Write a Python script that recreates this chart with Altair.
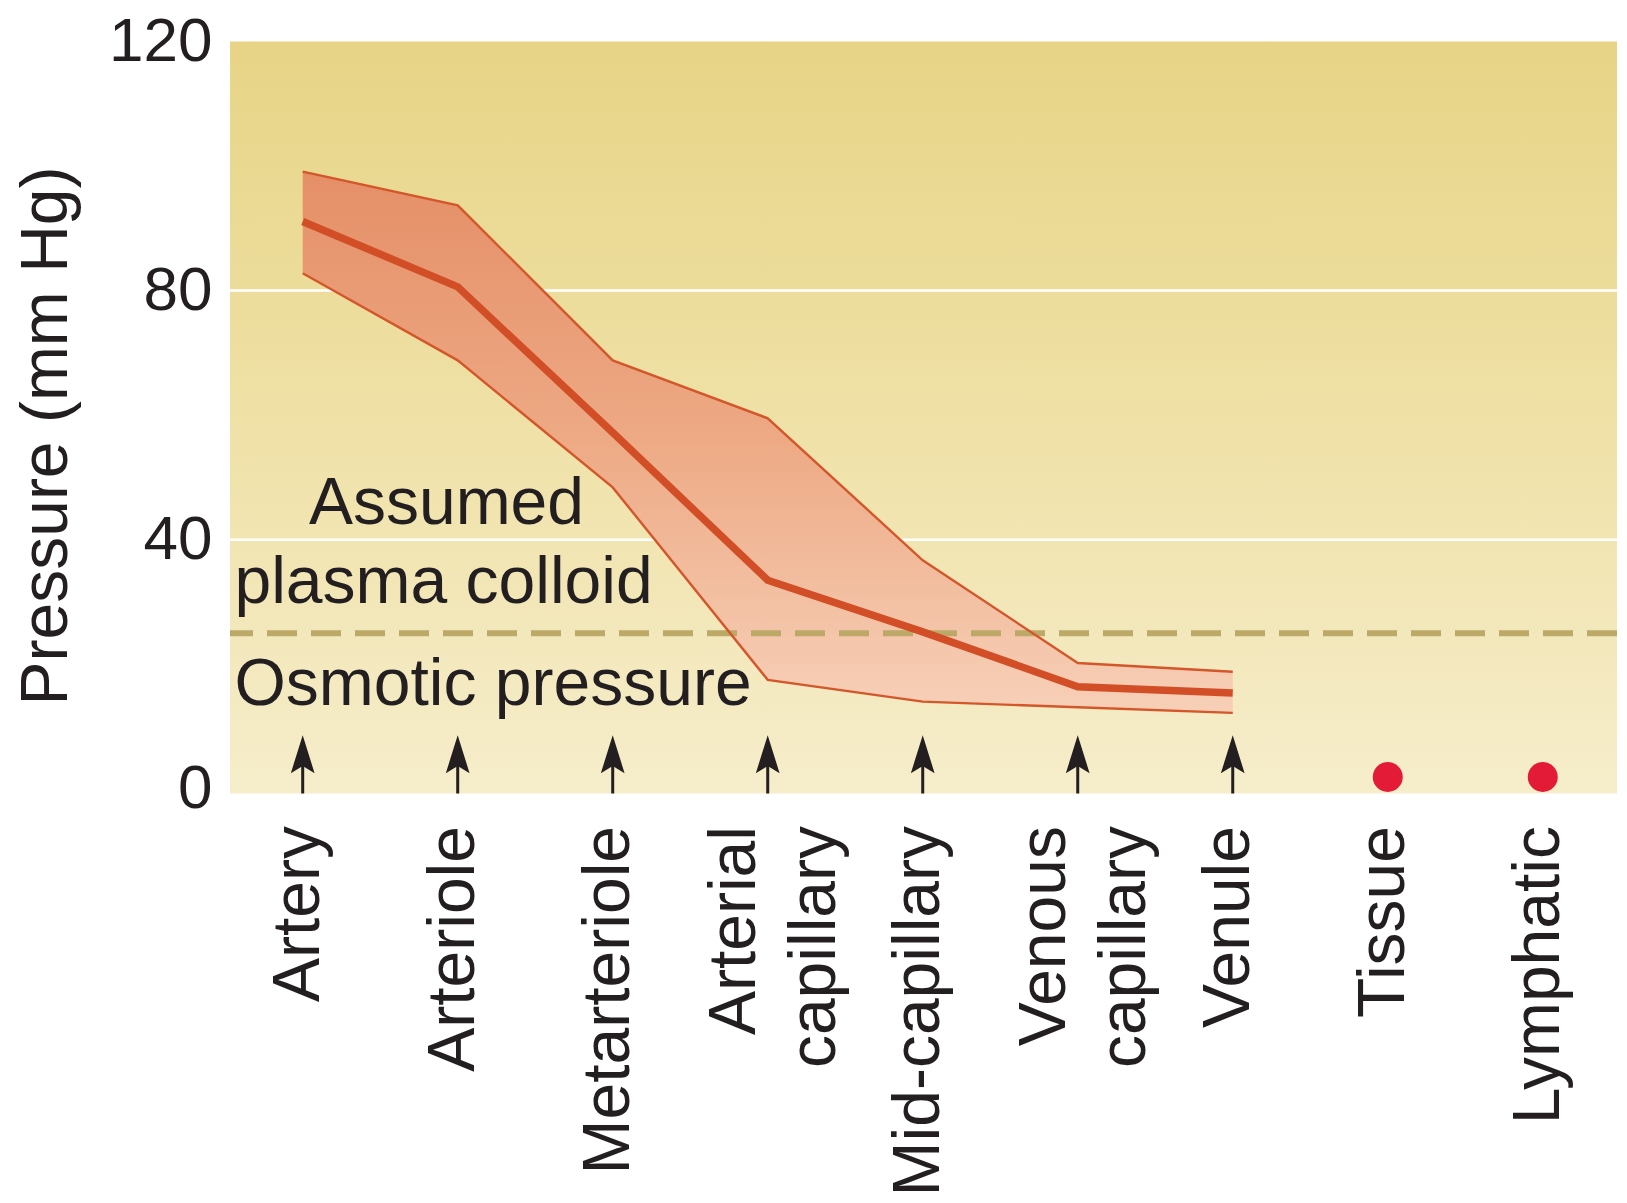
import json
import altair as alt
import pandas as pd

# ---------------- data ----------------
categories = ["Artery", "Arteriole", "Metarteriole", "Arterial\ncapillary",
              "Mid-capillary", "Venous\ncapillary", "Venule", "Tissue", "Lymphatic"]
vessel_index = [0, 1, 2, 3, 4, 5, 6]
mean_pressure = [91.1, 80.6, 57.2, 33.5, 25.2, 16.4, 15.4]
upper_pressure = [99.1, 93.7, 68.8, 59.5, 36.7, 20.2, 18.8]
lower_pressure = [82.8, 68.8, 48.4, 17.5, 14.0, 13.1, 12.2]
interstitial_index = [7, 8]
interstitial_pressure = [1.9, 1.9]
osmotic_pressure = [25]
grid_values = [40, 80]
y_ticks = [0, 40, 80, 120]
x_ticks = list(range(len(categories)))
x_domain = [-0.469, 8.479]
y_domain = [-0.75, 120]
arrow_head_value = 4.8
note_texts = ["Assumed", "plasma colloid", "Osmotic pressure"]
note_x = [0.04, -0.44, -0.44]
note_y = [42.5, 29.8, 13.4]

FONT = "Liberation Sans"
INK = "#231F20"

# ---------------- tables ----------------
vessels = pd.DataFrame({"x": vessel_index, "mean": mean_pressure,
                        "upper": upper_pressure, "lower": lower_pressure})
bg = pd.DataFrame({"x": [x_domain[0]], "x2": [x_domain[1]],
                   "y": [y_domain[0]], "y2": [y_domain[1]]})
grid = pd.DataFrame({"y": grid_values})
dash = pd.DataFrame({"y": osmotic_pressure})
arrows = pd.DataFrame({"x": vessel_index,
                       "y": [y_domain[0]] * len(vessel_index),
                       "y2": [arrow_head_value] * len(vessel_index)})
dots = pd.DataFrame({"x": interstitial_index, "y": interstitial_pressure})
notes = pd.DataFrame({"x": note_x, "y": note_y, "t": note_texts})

label_arrays = json.dumps([c.split("\n") for c in categories])
multi_idx = [i for i, c in enumerate(categories) if "\n" in c]

x_scale = alt.Scale(domain=x_domain, nice=False, zero=False)
y_scale = alt.Scale(domain=y_domain, nice=False, zero=False)

x_axis = alt.Axis(values=x_ticks, labelExpr=f"{label_arrays}[datum.value]",
                  labelAngle=270, labelAlign="right", labelBaseline="middle",
                  labelPadding=32, labelFontSize=66, labelFont=FONT,
                  labelColor=INK, labelLineHeight=80, labelLimit=1000,
                  labelOffset={"condition": {"test": f"indexof({json.dumps(multi_idx)}, datum.value) >= 0",
                                             "value": -33},
                               "value": -4},
                  ticks=False, domain=False, grid=False, labelOverlap=False,
                  labelFlush=False)
y_axis = alt.Axis(values=y_ticks, labelFontSize=62, labelFont=FONT,
                  labelColor=INK, labelPadding=18, ticks=False, domain=False,
                  grid=False, labelFlush=False, labelOverlap=False,
                  labelLimit=1000,
                  title="Pressure (mm Hg)", titleFont=FONT, titleFontSize=66,
                  titleFontWeight="normal", titleColor=INK, titleAngle=270,
                  titleX=-164, titleY=394, titleAlign="center",
                  titleBaseline="alphabetic", titleLimit=2000)


def X(field="x"):
    return alt.X(field, type="quantitative", scale=x_scale, axis=x_axis, title=None)


def Y(field="y"):
    return alt.Y(field, type="quantitative", scale=y_scale, axis=y_axis)


bg_grad = alt.LinearGradient(gradient="linear",
                             stops=[alt.GradientStop(color="#E7D486", offset=0),
                                    alt.GradientStop(color="#EFE1A6", offset=0.5),
                                    alt.GradientStop(color="#F6EDCB", offset=1)],
                             x1=0, x2=0, y1=0, y2=1)
band_grad = alt.LinearGradient(gradient="linear",
                               stops=[alt.GradientStop(color="#E58F67", offset=0),
                                      alt.GradientStop(color="#EDAA85", offset=0.5),
                                      alt.GradientStop(color="#F7D0B8", offset=1)],
                               x1=0, x2=0, y1=0, y2=1)

background = alt.Chart(bg).mark_rect(fill=bg_grad).encode(
    x=X("x"), x2="x2", y=Y("y"), y2="y2")

grid_rules = alt.Chart(grid).mark_rule(color="white", strokeWidth=2.5).encode(y=Y("y"))

band = alt.Chart(vessels).mark_area(fill=band_grad, strokeWidth=0).encode(
    x=X("x"), y=Y("upper"), y2="lower")

dash_rule = alt.Chart(dash).mark_rule(color="#BCA968", strokeWidth=6,
                                      strokeDash=[30, 14]).encode(y=Y("y"))

upper_line = alt.Chart(vessels).mark_line(color="#D4572B", strokeWidth=2.4).encode(
    x=X("x"), y=Y("upper"))
lower_line = alt.Chart(vessels).mark_line(color="#D4572B", strokeWidth=2.4).encode(
    x=X("x"), y=Y("lower"))
mean_line = alt.Chart(vessels).mark_line(color="#D24E26", strokeWidth=7.5).encode(
    x=X("x"), y=Y("mean"))

shafts = alt.Chart(arrows).mark_rule(color=INK, strokeWidth=3).encode(
    x=X("x"), y=Y("y"), y2="y2")
heads = alt.Chart(arrows).mark_point(
    shape="M0,-1L0.5,0.6L0,0.3L-0.5,0.6Z", size=2256, filled=True,
    color=INK, opacity=1).encode(x=X("x"), y=Y("y2"))

red_dots = alt.Chart(dots).mark_circle(color="#E31B36", size=900, opacity=1).encode(
    x=X("x"), y=Y("y"))

note_marks = alt.Chart(notes).mark_text(align="left", baseline="alphabetic",
                                        font=FONT, fontSize=66, color=INK).encode(
    x=X("x"), y=Y("y"), text="t")

chart = alt.layer(background, grid_rules, band, dash_rule, upper_line, lower_line,
                  mean_line, shafts, heads, red_dots, note_marks).properties(
    width=1387, height=752,
    autosize=alt.AutoSizeParams(type="none"),
    padding={"left": 222, "top": 33.5, "right": 2, "bottom": 400},
).configure_view(strokeWidth=0)

chart.save("out.html", embed_options={"renderer": "svg", "actions": False})
